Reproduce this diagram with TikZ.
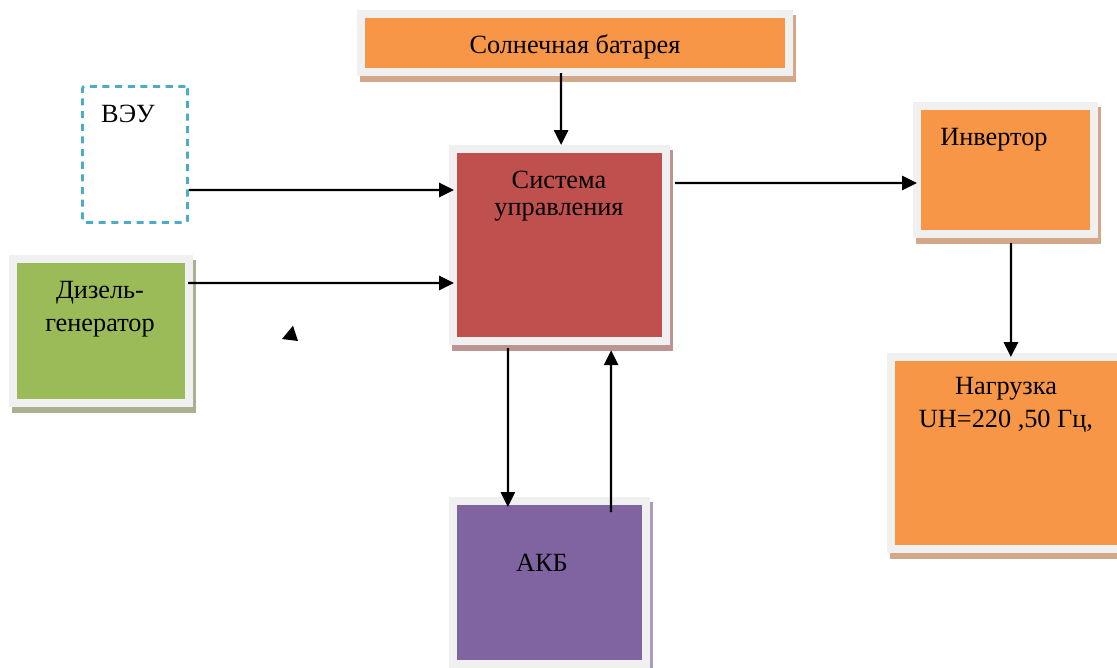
\documentclass[tikz,border=0pt]{standalone}
\usepackage{fontspec}
\setmainfont{Liberation Serif}
\usepackage{xcolor}
\usepackage{tikz}
\usetikzlibrary{arrows.meta}

\definecolor{oranzh}{HTML}{F79646}
\definecolor{krasn}{HTML}{C0504D}
\definecolor{zelen}{HTML}{9BBB59}
\definecolor{fiolet}{HTML}{8064A2}
\definecolor{goluboj}{HTML}{4BACC6}
\definecolor{ramka}{HTML}{F0F0F0}
\definecolor{tenO}{HTML}{D3A787}
\definecolor{tenK}{HTML}{BC9494}
\definecolor{tenZ}{HTML}{A9B191}
\definecolor{tenF}{HTML}{A99DBB}

\begin{document}
\begin{tikzpicture}[x=0.025cm, y=-0.025cm,
                    blok/.style={rectangle, inner sep=0pt, draw=ramka, line width=0.2cm,
                                 preaction={fill=#1, draw=#1, line width=0.2cm,
                                            transform canvas={shift={(3,5.5)}}}},
                    nadp/.style={font=\fontsize{18.7}{22.8}\selectfont, align=center,
                                 inner sep=0pt, anchor=base},
                    strel/.style={-{Triangle[length=10.5pt,width=10pt]}, line width=1.6pt}]

\useasboundingbox (0,0) rectangle (1117,667);

% Boxes
\node[blok=tenO, fill=oranzh, minimum width=10.7cm, minimum height=1.45cm] (sun) at (575,43) {};
\node[blok=tenK, fill=krasn, minimum width=5.325cm, minimum height=4.8cm] (sys) at (559.5,245) {};
\node[blok=tenZ, fill=zelen, minimum width=4.4cm, minimum height=3.6cm] (dg) at (101,331) {};
\node[blok=tenF, fill=fiolet, minimum width=4.825cm, minimum height=4.075cm] (akb) at (549.5,582.5) {};
\node[blok=tenO, fill=oranzh, minimum width=4.425cm, minimum height=3.2cm] (inv) at (1005.5,170) {};
\node[blok=tenO, fill=oranzh, minimum width=6.075cm, minimum height=4.8cm] (load) at (1012.5,453) {};
\node[rectangle, draw=goluboj, line width=2pt, dash pattern=on 5pt off 4pt, rounded corners=1.5pt,
      minimum width=2.625cm, minimum height=3.4cm] (vey) at (135,154.5) {};

% Labels (base = last line)
\node[nadp] (sunT) at (575,53) {Солнечная батарея};
\node[nadp, font=\fontsize{18.7}{19.2}\selectfont] (sysT) at (559,215) {Система\\управления};
\node[nadp] (veyT) at (128,122) {ВЭУ};
\node[nadp] (dgT) at (100,331) {Дизель-\\генератор};
\node[nadp] (invT) at (994,145) {Инвертор};
\node[nadp] (loadT) at (1006,427) {Нагрузка\\UH=220 ,50 Гц,};
\node[nadp] (akbT) at (542,571) {АКБ};

% Connections
\draw[strel] ([xshift=-0.35cm,yshift=0.075cm]sun.south) -- ([xshift=0.04cm]sys.north);
\draw[strel] ([yshift=-0.8875cm]vey.east) -- ([xshift=0.125cm,yshift=1.375cm]sys.west);
\draw[strel] ([xshift=-0.125cm,yshift=1.2cm]dg.east) -- ([xshift=0.125cm,yshift=-0.95cm]sys.west);
\draw[strel] ([xshift=0.125cm,yshift=1.55cm]sys.east) -- ([xshift=0.1cm,yshift=-0.325cm]inv.west);
\draw[strel] ([xshift=0.1375cm,yshift=-0.125cm]inv.south) -- ([xshift=-0.04cm,yshift=-0.1cm]load.north);
\draw[strel] ([xshift=-1.29cm,yshift=-0.08cm]sys.south) -- ([xshift=-1.04cm,yshift=-0.25cm]akb.north);
\draw[strel] ([xshift=1.54cm,yshift=-0.38cm]akb.north) -- ([xshift=1.29cm,yshift=-0.13cm]sys.south);

% stray arrow head
\fill (282,339) -- (293,325.7) -- (298,341) -- cycle;

\end{tikzpicture}
\end{document}
